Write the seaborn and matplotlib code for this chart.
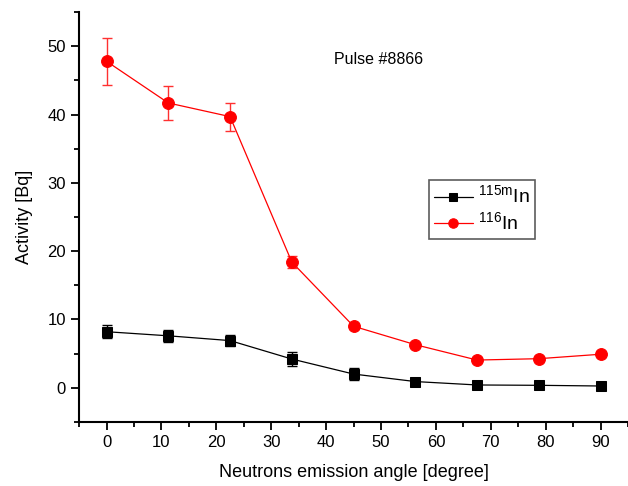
import numpy as np
import pandas as pd
import seaborn as sns
import matplotlib.pyplot as plt
from matplotlib.ticker import MultipleLocator

# Datos

angulo = [0, 11.25, 22.5, 33.75, 45, 56.25, 67.5, 78.75, 90]
in115m = [8.2, 7.6, 6.9, 4.2, 2.0, 0.9, 0.4, 0.35, 0.25]
in115m_err = [0.95, 0.85, 0.85, 1.0, 0.9, 0.5, 0.2, 0.2, 0.2]
in116 = [47.8, 41.7, 39.7, 18.4, 9.0, 6.3, 4.05, 4.25, 4.9]
in116_err = [3.4, 2.5, 2.05, 0.85, 0.4, 0.3, 0.3, 0.3, 0.3]

df = pd.DataFrame({"angulo": angulo, "in115m": in115m, "in116": in116})

sns.set_style("ticks")
plt.rcParams["font.family"] = ["Liberation Sans", "DejaVu Sans"]
plt.rcParams["mathtext.fontset"] = "custom"
plt.rcParams["mathtext.rm"] = "Liberation Sans"
for k in ["text.color", "axes.labelcolor", "xtick.color", "ytick.color", "axes.edgecolor"]:
    plt.rcParams[k] = "black"

fig = plt.figure(figsize=(6.28, 4.86), dpi=100)
ax = fig.add_axes([0.126, 0.132, 0.874, 0.843])

# Barras de error

ax.errorbar(angulo, in115m, yerr=in115m_err, fmt="none", ecolor="black",
            elinewidth=1, capsize=3.5, capthick=1)
ax.errorbar(angulo, in116, yerr=in116_err, fmt="none", ecolor="#ff3030",
            elinewidth=1, capsize=3.5, capthick=1)

# Líneas

sns.lineplot(data=df, x="angulo", y="in115m", ax=ax, color="black",
             marker="s", markersize=7, markeredgecolor="black",
             linewidth=0.9, label=r"$^{\mathrm{115m}}$In")
sns.lineplot(data=df, x="angulo", y="in116", ax=ax, color="red",
             marker="o", markersize=8.5, markeredgecolor="red",
             linewidth=0.9, label=r"$^{\mathrm{116}}$In")

ax.set_xlim(-5, 95)
ax.set_ylim(-5, 55)
ax.xaxis.set_major_locator(MultipleLocator(10))
ax.xaxis.set_minor_locator(MultipleLocator(5))
ax.yaxis.set_major_locator(MultipleLocator(10))
ax.yaxis.set_minor_locator(MultipleLocator(5))
ax.tick_params(which="major", direction="out", length=6, width=1.3, labelsize=12)
ax.tick_params(which="minor", direction="out", length=3.5, width=1.3)

for s in ["top", "right"]:
    ax.spines[s].set_visible(False)
for s in ["left", "bottom"]:
    ax.spines[s].set_linewidth(1.5)

ax.set_xlabel("Neutrons emission angle [degree]", fontsize=13, labelpad=10)
ax.set_ylabel("Activity [Bq]", fontsize=13, labelpad=10)

ax.text(49.5, 48, "Pulse #8866", fontsize=11.5, ha="center", va="center")

leg = ax.legend(loc="upper left", bbox_to_anchor=(0.637, 0.59), fontsize=14,
                frameon=True, fancybox=False, edgecolor="#333333",
                handlelength=2.0, handletextpad=0.3, borderpad=0.25,
                labelspacing=0.2, borderaxespad=0, markerscale=0.8)
leg.get_frame().set_linewidth(1.2)

plt.savefig("out.png", dpi=100)
